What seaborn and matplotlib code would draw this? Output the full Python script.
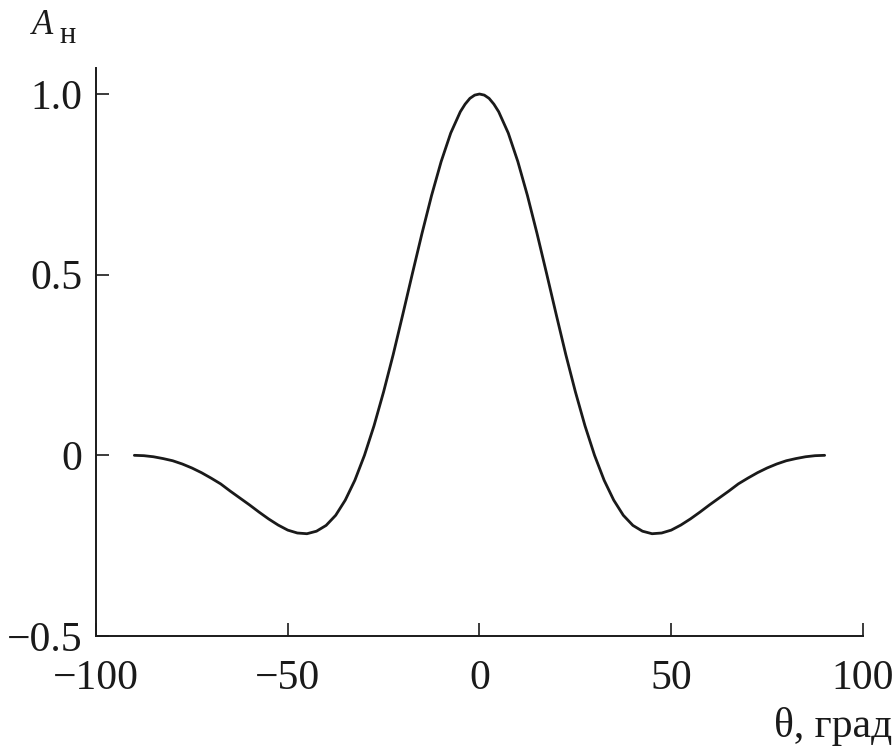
import numpy as np
import pandas as pd
import matplotlib
matplotlib.use("Agg")
import matplotlib.pyplot as plt
import seaborn as sns

# Angle (degrees) and normalized amplitude
theta_half = [0, 1.25, 2.5, 3.75, 5, 7.5, 10, 12.5, 15, 17.5, 20, 22.5, 25, 27.5,
              30, 32.5, 35, 37.5, 40, 42.5, 45, 47.5, 50, 52.5, 55, 57.5, 60,
              62.5, 65, 67.5, 70, 72.5, 75, 77.5, 80, 82.5, 85, 87.5, 90]
amp_half = [1.0, 0.997, 0.988, 0.972, 0.951, 0.892, 0.813, 0.719, 0.614, 0.503,
            0.390, 0.279, 0.176, 0.082, 0.0, -0.069, -0.124, -0.166, -0.194,
            -0.210, -0.217, -0.215, -0.207, -0.193, -0.176, -0.157, -0.137,
            -0.118, -0.099, -0.079, -0.063, -0.048, -0.035, -0.024, -0.015,
            -0.009, -0.004, -0.001, 0.0]

theta = [-t for t in theta_half[:0:-1]] + theta_half
amp = amp_half[:0:-1] + amp_half

x_ticks = [-100, -50, 0, 50, 100]
x_tick_labels = ["\u2212100", "\u221250", "0", "50", "100"]
y_ticks = [-0.5, 0, 0.5, 1.0]
y_tick_labels = ["\u22120.5", "0", "0.5", "1.0"]

df = pd.DataFrame({"theta": theta, "amp": amp})

sns.set_style("ticks")
plt.rcParams["font.family"] = ["Liberation Serif", "DejaVu Serif"]

fig = plt.figure(figsize=(8.93, 7.49), dpi=100)
ax = fig.add_axes([0.1075, 0.1509, 0.9664 - 0.1075, 0.9092 - 0.1509])

sns.lineplot(data=df, x="theta", y="amp", ax=ax, color="#1a1a1a",
             linewidth=2.0, sort=False)

ax.set_xlim(-100, 100)
ax.set_ylim(-0.5, 1.072)
ax.set_xticks(x_ticks)
ax.set_xticklabels(x_tick_labels)
ax.set_yticks(y_ticks)
ax.set_yticklabels(y_tick_labels)
ax.set_xlabel("")
ax.set_ylabel("")

for s in ["top", "right"]:
    ax.spines[s].set_visible(False)
for s in ["left", "bottom"]:
    ax.spines[s].set_linewidth(1.4)
    ax.spines[s].set_color("#1a1a1a")

ax.tick_params(axis="both", direction="in", length=9.5, width=1.2,
               color="#1a1a1a", labelsize=30, labelcolor="#1a1a1a")
ax.tick_params(axis="y", pad=10)
ax.tick_params(axis="x", pad=17)

fig.text(32 / 893, 1 - 34 / 749, "A", fontsize=25, style="italic",
         color="#1a1a1a", ha="left", va="baseline")
fig.text(59 / 893, 1 - 43 / 749, "н", fontsize=22, color="#1a1a1a",
         ha="left", va="baseline")
fig.text(892 / 893, 1 - 737 / 749, "θ, град", fontsize=30, color="#1a1a1a",
         ha="right", va="baseline")

fig.savefig("out.png", dpi=100, facecolor="white")
